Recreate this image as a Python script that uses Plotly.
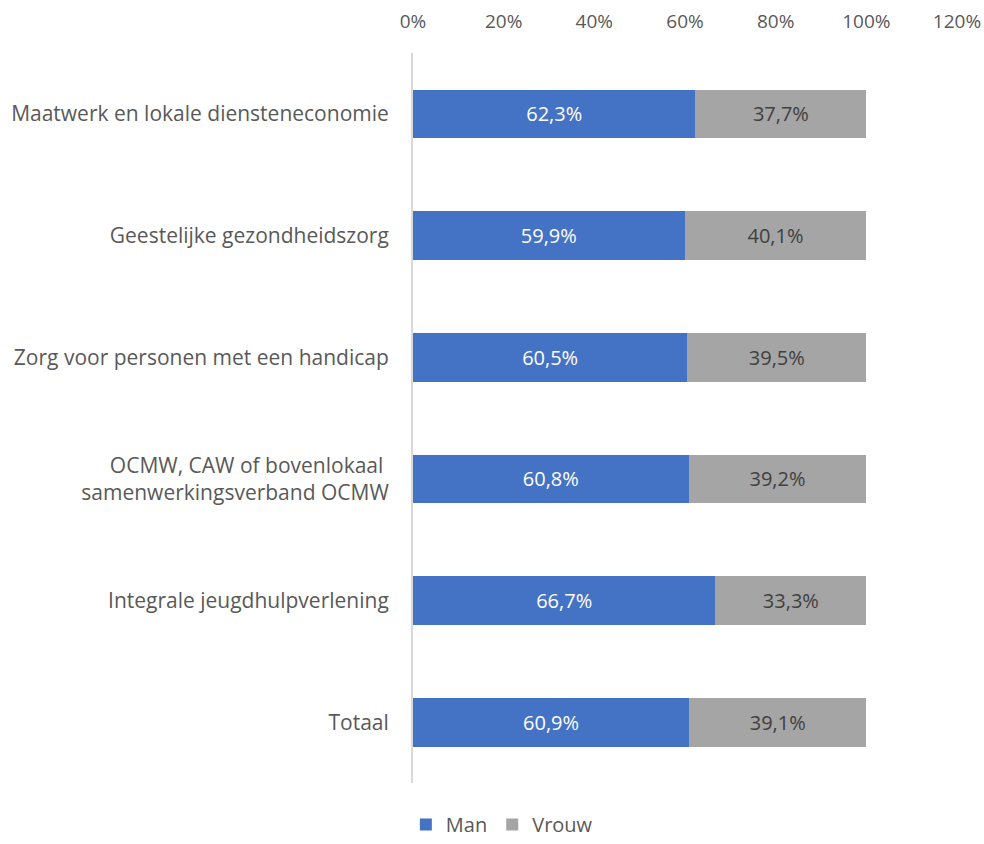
import plotly.graph_objects as go

categories = [
    "Maatwerk en lokale diensteneconomie",
    "Geestelijke gezondheidszorg",
    "Zorg voor personen met een handicap",
    "OCMW, CAW of bovenlokaal <br>samenwerkingsverband OCMW",
    "Integrale jeugdhulpverlening",
    "Totaal",
]
man = [62.3, 59.9, 60.5, 60.8, 66.7, 60.9]
vrouw = [37.7, 40.1, 39.5, 39.2, 33.3, 39.1]
tick_vals = [0, 20, 40, 60, 80, 100, 120]
tick_text = [f"{v}%" for v in tick_vals]

FONT = "Open Sans, Liberation Sans, sans-serif"


def fmt(v):
    return f"{v:.1f}%".replace(".", ",")


fig = go.Figure()
fig.add_trace(go.Bar(
    y=categories, x=man, name="Man", orientation="h",
    marker=dict(color="#4472C4", line=dict(width=0)),
    text=[fmt(v) for v in man], textposition="inside", insidetextanchor="middle",
    textfont=dict(color="white", size=20, family=FONT),
))
fig.add_trace(go.Bar(
    y=categories, x=vrouw, name="Vrouw", orientation="h",
    marker=dict(color="#A5A5A5", line=dict(width=0)),
    text=[fmt(v) for v in vrouw], textposition="inside", insidetextanchor="middle",
    textfont=dict(color="#404040", size=20, family=FONT),
))

fig.update_layout(
    barmode="stack",
    bargap=0.6,
    width=984, height=844,
    margin=dict(l=413, r=27, t=53, b=61),
    paper_bgcolor="white", plot_bgcolor="white",
    font=dict(family=FONT, size=19, color="#595959"),
    uniformtext=dict(mode="show", minsize=20),
    xaxis=dict(
        side="top", range=[0, 120], tickvals=tick_vals, ticktext=tick_text,
        showgrid=False, zeroline=False, showline=False, ticks="",
        ticklabelstandoff=20, automargin=False,
        tickfont=dict(size=19, color="#595959"),
    ),
    yaxis=dict(
        autorange="reversed", showgrid=False, zeroline=False,
        showline=True, linecolor="#D9D9D9", linewidth=2, ticks="",
        ticklabelstandoff=18, automargin=False,
        tickfont=dict(size=21, color="#595959"),
    ),
    legend=dict(
        orientation="h", xref="container", yref="container",
        x=0.51, y=-0.006, xanchor="center", yanchor="bottom",
        font=dict(size=20, color="#595959"),
        traceorder="normal",
    ),
)

fig.write_html("out.html")
